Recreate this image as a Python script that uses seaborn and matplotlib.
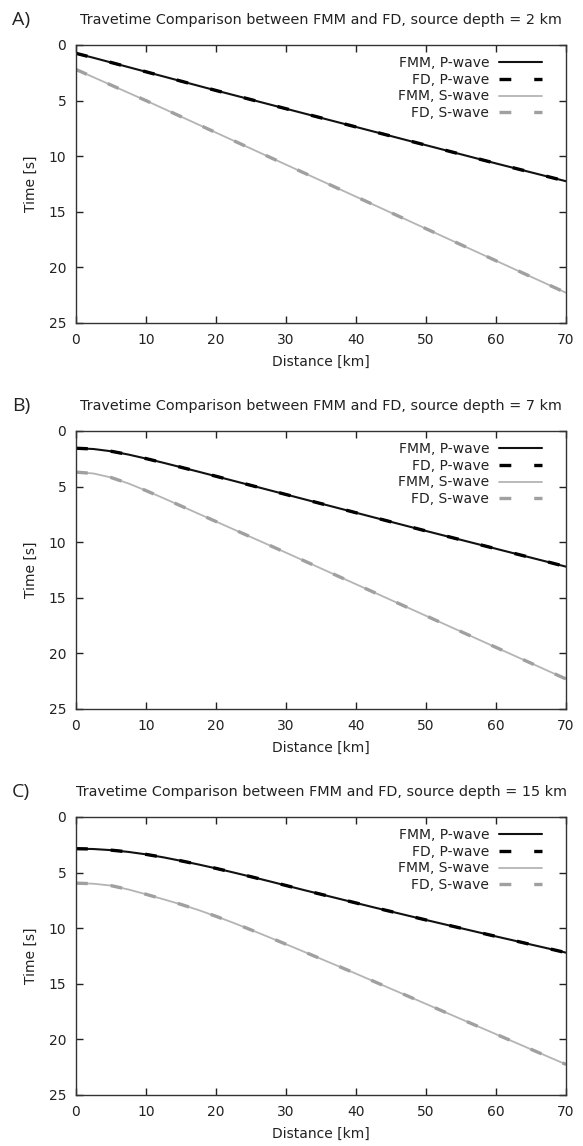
import numpy as np
import pandas as pd
import matplotlib
matplotlib.use("Agg")
import matplotlib.pyplot as plt
import seaborn as sns

# Offsets along the profile (km)
distance_km = [0, 2.5, 5, 7.5, 10, 12.5, 15, 17.5, 20, 22.5, 25, 27.5, 30, 32.5, 35,
               37.5, 40, 42.5, 45, 47.5, 50, 52.5, 55, 57.5, 60, 62.5, 65, 67.5, 70]

# Source depth 2 km
fmm_p_2km = [0.75, 1.15, 1.57, 1.99, 2.41, 2.83, 3.25, 3.67, 4.09, 4.5, 4.91, 5.32, 5.73, 6.14, 6.55,
             6.96, 7.37, 7.78, 8.19, 8.6, 9.01, 9.42, 9.83, 10.24, 10.65, 11.05, 11.45, 11.85, 12.25]
fd_p_2km = [0.75, 1.15, 1.57, 1.99, 2.41, 2.83, 3.25, 3.67, 4.09, 4.5, 4.91, 5.32, 5.73, 6.14, 6.55,
            6.96, 7.37, 7.78, 8.19, 8.6, 9.01, 9.42, 9.83, 10.24, 10.65, 11.05, 11.45, 11.85, 12.25]
fmm_s_2km = [2.2, 2.9, 3.6, 4.3, 5.0, 5.72, 6.44, 7.16, 7.88, 8.6, 9.32, 10.04, 10.76, 11.48, 12.2,
             12.92, 13.64, 14.36, 15.08, 15.8, 16.52, 17.24, 17.96, 18.68, 19.4, 20.12, 20.84, 21.56, 22.28]
fd_s_2km = [2.2, 2.9, 3.6, 4.3, 5.0, 5.72, 6.44, 7.16, 7.88, 8.6, 9.32, 10.04, 10.76, 11.48, 12.2,
            12.92, 13.64, 14.36, 15.08, 15.8, 16.52, 17.24, 17.96, 18.68, 19.4, 20.12, 20.84, 21.56, 22.28]

# Source depth 7 km
fmm_p_7km = [1.55, 1.62, 1.82, 2.12, 2.48, 2.86, 3.26, 3.66, 4.07, 4.48, 4.89, 5.3, 5.71, 6.12, 6.53,
             6.94, 7.35, 7.76, 8.17, 8.58, 8.99, 9.39, 9.79, 10.19, 10.59, 10.99, 11.39, 11.79, 12.2]
fd_p_7km = [1.55, 1.62, 1.82, 2.12, 2.48, 2.86, 3.26, 3.66, 4.07, 4.48, 4.89, 5.3, 5.71, 6.12, 6.53,
            6.94, 7.35, 7.76, 8.17, 8.58, 8.99, 9.39, 9.79, 10.19, 10.59, 10.99, 11.39, 11.79, 12.2]
fmm_s_7km = [3.7, 3.82, 4.18, 4.72, 5.36, 6.04, 6.74, 7.44, 8.14, 8.84, 9.54, 10.24, 10.94, 11.65, 12.36,
             13.07, 13.78, 14.49, 15.2, 15.91, 16.62, 17.33, 18.04, 18.75, 19.46, 20.17, 20.88, 21.59, 22.3]
fd_s_7km = [3.7, 3.82, 4.18, 4.72, 5.36, 6.04, 6.74, 7.44, 8.14, 8.84, 9.54, 10.24, 10.94, 11.65, 12.36,
            13.07, 13.78, 14.49, 15.2, 15.91, 16.62, 17.33, 18.04, 18.75, 19.46, 20.17, 20.88, 21.59, 22.3]

# Source depth 15 km
fmm_p_15km = [2.85, 2.88, 2.98, 3.14, 3.36, 3.63, 3.94, 4.27, 4.62, 4.99, 5.37, 5.76, 6.16, 6.56, 6.95,
              7.34, 7.73, 8.12, 8.5, 8.88, 9.26, 9.63, 10.0, 10.37, 10.74, 11.1, 11.47, 11.83, 12.2]
fd_p_15km = [2.85, 2.88, 2.98, 3.14, 3.36, 3.63, 3.94, 4.27, 4.62, 4.99, 5.37, 5.76, 6.16, 6.56, 6.95,
             7.34, 7.73, 8.12, 8.5, 8.88, 9.26, 9.63, 10.0, 10.37, 10.74, 11.1, 11.47, 11.83, 12.2]
fmm_s_15km = [5.95, 6.0, 6.17, 6.52, 6.95, 7.4, 7.86, 8.37, 8.93, 9.52, 10.15, 10.79, 11.44, 12.1, 12.76,
              13.42, 14.09, 14.77, 15.45, 16.13, 16.81, 17.49, 18.17, 18.85, 19.53, 20.21, 20.89, 21.57, 22.25]
fd_s_15km = [5.95, 6.0, 6.17, 6.52, 6.95, 7.4, 7.86, 8.37, 8.93, 9.52, 10.15, 10.79, 11.44, 12.1, 12.76,
             13.42, 14.09, 14.77, 15.45, 16.13, 16.81, 17.49, 18.17, 18.85, 19.53, 20.21, 20.89, 21.57, 22.25]

panel_letters = ["A)", "B)", "C)"]
source_depths = [2, 7, 15]
x_ticks = [0, 10, 20, 30, 40, 50, 60, 70]
y_ticks = [0, 5, 10, 15, 20, 25]

panels = [
    (fmm_p_2km, fd_p_2km, fmm_s_2km, fd_s_2km),
    (fmm_p_7km, fd_p_7km, fmm_s_7km, fd_s_7km),
    (fmm_p_15km, fd_p_15km, fmm_s_15km, fd_s_15km),
]

sns.set_theme(style="ticks")
plt.rcParams["font.family"] = ["DejaVu Sans"]
plt.rcParams["lines.scale_dashes"] = False
plt.rcParams["axes.edgecolor"] = "#333333"
plt.rcParams["axes.linewidth"] = 1.0

W, H = 583, 1146
fig = plt.figure(figsize=(W / 100, H / 100), dpi=100)

ax_left, ax_width = 76 / W, 490 / W
tops = [45, 431, 817]
height_px = 278

fs = 10
dash = (0, (8.5, 16.5))
text_color = "#222222"

for i, (fmm_p, fd_p, fmm_s, fd_s) in enumerate(panels):
    top = tops[i]
    ax = fig.add_axes([ax_left, 1 - (top + height_px) / H, ax_width, height_px / H])
    df = pd.DataFrame({
        "distance": distance_km,
        "fmm_p": fmm_p, "fd_p": fd_p, "fmm_s": fmm_s, "fd_s": fd_s,
    })
    sns.lineplot(data=df, x="distance", y="fmm_p", ax=ax, color="#111111",
                 lw=1.5, label="FMM, P-wave")
    sns.lineplot(data=df, x="distance", y="fd_p", ax=ax, color="#000000",
                 lw=2.4, linestyle=dash, label="FD, P-wave")
    sns.lineplot(data=df, x="distance", y="fmm_s", ax=ax, color="#b4b4b4",
                 lw=1.3, label="FMM, S-wave")
    sns.lineplot(data=df, x="distance", y="fd_s", ax=ax, color="#a0a0a0",
                 lw=2.4, linestyle=dash, label="FD, S-wave")

    ax.set_xlim(0, 70)
    ax.set_ylim(25, 0)
    ax.set_xticks(x_ticks)
    ax.set_yticks(y_ticks)
    ax.tick_params(direction="in", length=5, width=1.0, top=True, right=True,
                   labelsize=fs, colors=text_color, pad=7)
    ax.set_xlabel("Distance [km]", fontsize=fs, color=text_color, labelpad=6)
    ax.set_ylabel("Time [s]", fontsize=fs, color=text_color, labelpad=8)
    ax.set_title(f"Travetime Comparison between FMM and FD, source depth = {source_depths[i]} km",
                 fontsize=10.4, color=text_color, pad=15)
    fig.text(12 / W, 1 - (top - 25) / H, panel_letters[i], fontsize=14,
             family="Open Sans", color=text_color, va="center", ha="left")

    leg = ax.legend(loc="upper right", frameon=False, markerfirst=False,
                    fontsize=fs, handlelength=3.1, handletextpad=0.7,
                    labelspacing=0.2, borderaxespad=0.6,
                    bbox_to_anchor=(1 - 10 / 490, 1 + 3 / 278))
    for t in leg.get_texts():
        t.set_color(text_color)

fig.savefig("out.png", dpi=100)
